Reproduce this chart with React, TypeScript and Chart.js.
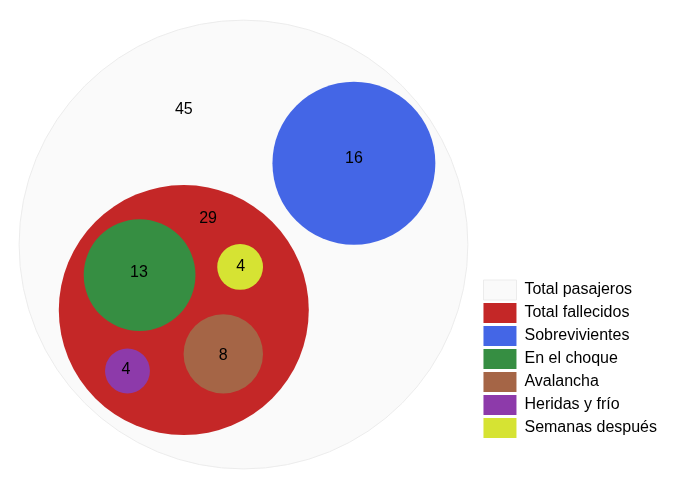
import React, { useEffect, useRef } from "react";
import { Chart, registerables } from "chart.js";

Chart.register(...registerables);

const categories = [
  "Total pasajeros",
  "Total fallecidos",
  "Sobrevivientes",
  "En el choque",
  "Avalancha",
  "Heridas y frío",
  "Semanas después",
];
const values = [45, 29, 16, 13, 8, 4, 4];
// circle centres and radii in the diagram's own units (outer circle radius = 100)
const centerX = [0, -26.6, 49.2, -46.3, -9.0, -51.7, -1.5];
const centerY = [0, -29.2, 36.2, -13.6, -48.7, -56.3, -10.0];
const radius = [100, 55.7, 36.3, 24.9, 17.7, 10.0, 10.2];
// where each number is written
const labelX = [-26.6, -15.8, 49.2, -46.6, -9.0, -52.4, -1.2];
const labelY = [60.2, 11.4, 38.4, -12.7, -49.4, -55.7, -10.0];
const colors = [
  "#fafafa",
  "#c42727",
  "#4466e6",
  "#368e42",
  "#a56546",
  "#8d3aaa",
  "#d6e333",
];

const FONT = '"Liberation Sans", Arial, sans-serif';

const valueLabels = {
  id: "valueLabels",
  afterDatasetsDraw(chart: any) {
    const { ctx, scales } = chart;
    const x = scales.x;
    const y = scales.y;
    ctx.save();
    ctx.font = `16px ${FONT}`;
    ctx.fillStyle = "#000";
    ctx.textAlign = "center";
    ctx.textBaseline = "middle";
    values.forEach((v, i) => {
      ctx.fillText(String(v), x.getPixelForValue(labelX[i]), y.getPixelForValue(labelY[i]));
    });
    ctx.restore();
  },
};

const radiusFromScale = (ctx: any) => {
  const raw = ctx.raw;
  const sc = ctx.chart && ctx.chart.scales && ctx.chart.scales.x;
  if (!raw || !sc) return 0;
  const r = Math.abs(sc.getPixelForValue(raw.size) - sc.getPixelForValue(0));
  return Number.isFinite(r) ? r : 0;
};

export default function App() {
  const ref = useRef<HTMLCanvasElement | null>(null);

  useEffect(() => {
    if (!ref.current) return;
    // outermost circle last so that it is painted first (underneath)
    const drawOrder = categories.map((_, i) => categories.length - 1 - i);
    const chart = new Chart(ref.current, {
      type: "scatter",
      data: {
        datasets: drawOrder.map((i) => ({
          label: categories[i],
          data: [{ x: centerX[i], y: centerY[i], size: radius[i] } as any],
          backgroundColor: colors[i],
          borderColor: i === 0 ? "#ececec" : colors[i],
          borderWidth: i === 0 ? 1 : 0,
          pointBackgroundColor: colors[i],
          pointBorderColor: i === 0 ? "#ececec" : colors[i],
          pointBorderWidth: i === 0 ? 1 : 0,
          pointRadius: radiusFromScale,
          pointHoverRadius: radiusFromScale,
          showLine: false,
          clip: false as any,
        })),
      },
      options: {
        responsive: false,
        animation: false,
        devicePixelRatio: 1,
        events: [],
        layout: { autoPadding: false, padding: { left: 0, top: 0, right: 11, bottom: 56 } },
        scales: {
          x: { type: "linear", display: false, min: -108.5, max: 105.6 },
          y: { type: "linear", display: false, min: -87.5, max: 108.9 },
        },
        plugins: {
          tooltip: { enabled: false },
          legend: {
            position: "right",
            align: "end",
            reverse: true,
            labels: {
              boxWidth: 33,
              boxHeight: 20,
              padding: 3,
              color: "#000",
              font: { family: FONT, size: 16 },
            },
          },
        },
      },
      plugins: [valueLabels],
    });
    return () => chart.destroy();
  }, []);

  return (
    <canvas
      ref={ref}
      width={678}
      height={497}
      style={{ position: "absolute", left: 0, top: 0, width: 678, height: 497 }}
    />
  );
}
